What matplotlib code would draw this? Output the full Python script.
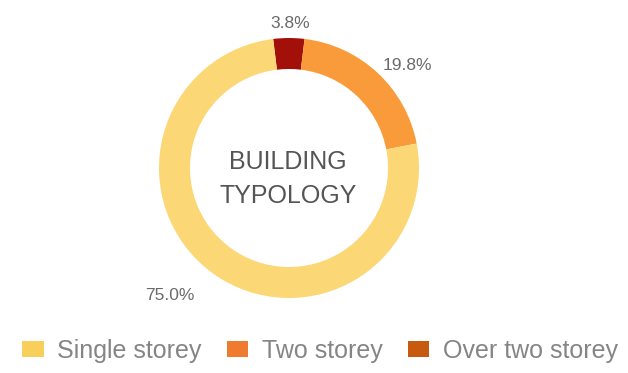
import matplotlib
matplotlib.use("Agg")
import matplotlib.pyplot as plt
from matplotlib.patches import Patch

categories = ["Over two storey", "Two storey", "Single storey"]
shares = [3.8, 19.8, 75.0]
labels = ["3.8%", "19.8%", "75.0%"]
wedge_colors = ["#A3100A", "#F99B3B", "#FCD776"]
legend_order = ["Single storey", "Two storey", "Over two storey"]
legend_colors = ["#F8CF5A", "#EE7B30", "#C85A10"]

W, H = 628, 373
plt.rcParams["font.family"] = ["Liberation Sans", "DejaVu Sans"]

fig = plt.figure(figsize=(W / 100, H / 100), dpi=100)
ax = fig.add_axes([0, 0, 1, 1])

# work in pixel-like units, y measured from the bottom
cx, cy = 289, H - 168
ax.pie(shares, colors=wedge_colors, startangle=97, counterclock=False,
       center=(cx, cy), radius=130, wedgeprops=dict(width=31, edgecolor="none"))
ax.set_xlim(0, W)
ax.set_ylim(0, H)
ax.set_aspect("equal")
ax.axis("off")

label_pos = [(290, H - 23), (407, H - 65), (170, H - 295)]
for txt, (x, y) in zip(labels, label_pos):
    ax.text(x, y, txt, ha="center", va="center", fontsize=12.5, color="#6a6a6a")

ax.text(cx - 1, H - 162, "BUILDING", ha="center", va="center", fontsize=18,
        color="#555555")
ax.text(cx - 1, H - 196, "TYPOLOGY", ha="center", va="center", fontsize=18,
        color="#555555")

handles = [Patch(facecolor=c, edgecolor="none") for c in legend_colors]
fig.legend(handles, legend_order, loc="center", ncol=3, frameon=False,
           fontsize=18, labelcolor="#858585", handlelength=0.85, handleheight=0.6,
           columnspacing=1.0, handletextpad=0.55, borderpad=0, borderaxespad=0,
           bbox_to_anchor=(320 / W, 1 - 351 / H))

fig.savefig("out.png", dpi=100, facecolor="white")
